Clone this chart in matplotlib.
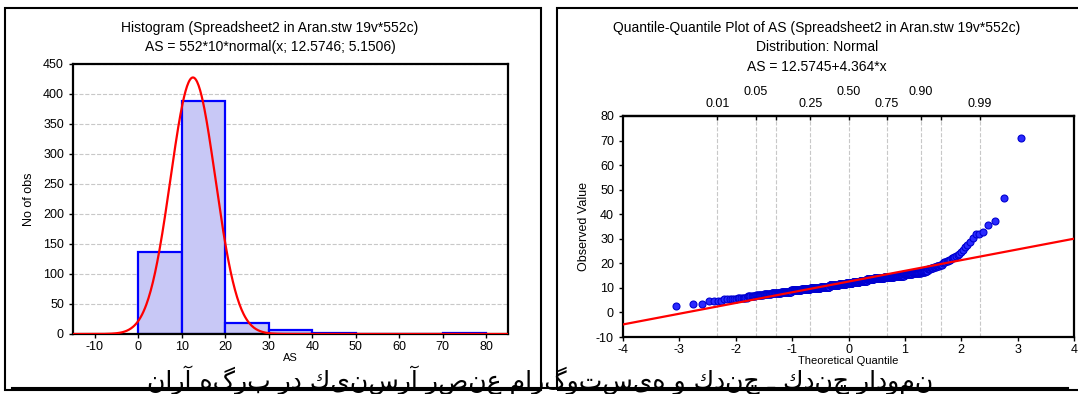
import numpy as np
import matplotlib
matplotlib.use('Agg')
import matplotlib.pyplot as plt
from matplotlib.patches import Rectangle
from matplotlib.lines import Line2D
from statistics import NormalDist

#############################################
# DATA
#############################################

# sorted AS values, as value levels and how many observations sit on each level
as_levels = [2.8, 3.4, 3.5, 4.5, 5.5,
             6.0, 6.5, 7.0, 7.5, 8.0, 8.5, 9.0, 9.5,
             10.0, 10.5, 11.0, 11.5, 12.0, 12.5, 13.0, 13.5, 14.0, 14.5, 15.0, 15.5,
             16.0, 16.5, 17.0, 17.5, 18.0, 18.5, 19.0, 19.5,
             20.0, 20.5, 21.0, 21.5, 22.0, 22.5, 23.0, 23.5, 24.0, 24.5,
             25.5, 26.5, 27.5, 28.5,
             30.3, 31.8, 32.6, 35.6, 37.3, 46.5, 71.0]
as_counts = [1, 1, 1, 4, 6,
             7, 7, 9, 11, 17, 21, 26, 26,
             33, 33, 35, 28, 26, 27, 27, 26, 34, 30, 26, 19,
             16, 7, 4, 4, 4, 3, 4, 3,
             1, 2, 2, 2, 2, 1, 1, 1, 1, 1,
             1, 1, 1, 1,
             1, 2, 1, 1, 1, 1, 1]

hist_edges = [0, 10, 20, 30, 40, 50, 60, 70, 80]

# fitted normal (from the histogram title) and the q-q fit line (from the q-q title)
fit_n = 552
fit_width = 10
fit_mean = 12.5746
fit_sd = 5.1506
qq_intercept = 12.5745
qq_slope = 4.364

quant_probs = [0.01, 0.05, 0.10, 0.25, 0.50, 0.75, 0.90, 0.95, 0.99]
quant_labels = ['0.01', '0.05\n', '', '0.25', '0.50\n', '0.75', '0.90\n', '', '0.99']

hist_title = 'Histogram (Spreadsheet2 in Aran.stw 19v*552c)'
hist_sub = 'AS = 552*10*normal(x; 12.5746; 5.1506)'
qq_title = 'Quantile-Quantile Plot of AS (Spreadsheet2 in Aran.stw 19v*552c)'
qq_sub1 = 'Distribution: Normal'
qq_sub2 = 'AS = 12.5745+4.364*x'
caption = 'نمودار چندك ـ چندك و هیستوگرام عنصر آرسنیك در برگه آران'

#############################################
# FIGURE
#############################################

plt.rcParams['font.family'] = ['Liberation Sans', 'DejaVu Sans']
plt.rcParams['font.size'] = 9
plt.rcParams['axes.unicode_minus'] = False

W, H = 1078, 394
fig = plt.figure(figsize=(W / 100, H / 100), dpi=100)


def px_axes(x0, y0, x1, y1):
    return fig.add_axes([x0 / W, 1 - y1 / H, (x1 - x0) / W, (y1 - y0) / H])


def style_axes(ax):
    for s in ax.spines.values():
        s.set_linewidth(1.6)
    ax.tick_params(axis='both', which='both', length=3, width=1, labelsize=9)
    ax.tick_params(axis='x', direction='out', top=False, pad=2)
    ax.tick_params(axis='y', direction='out', right=False)


values = np.repeat(as_levels, as_counts)
n = len(values)

# ---- histogram panel
ax1 = px_axes(73, 64, 508, 334)
ax1.hist(values, bins=hist_edges, color='#c8c8f6', edgecolor='#0000ff', linewidth=1.6, zorder=2)
xs = np.linspace(-15, 85, 600)
ys = [fit_n * fit_width * NormalDist(fit_mean, fit_sd).pdf(v) for v in xs]
ax1.plot(xs, ys, color='red', lw=1.6, zorder=3)
ax1.set_xlim(-15, 85)
ax1.set_ylim(0, 450)
ax1.set_xticks(np.arange(-10, 81, 10))
ax1.set_yticks(np.arange(0, 451, 50))
ax1.yaxis.grid(True, ls='--', color='#c8c8c8', lw=0.8, zorder=0)
ax1.set_axisbelow(True)
style_axes(ax1)
ax1.set_ylabel('No of obs', fontsize=9, labelpad=6)
ax1.set_xlabel('AS', fontsize=8, labelpad=0)

fig.text(270 / W, 1 - 28 / H, hist_title, ha='center', va='center', fontsize=10)
fig.text(270 / W, 1 - 47 / H, hist_sub, ha='center', va='center', fontsize=10)

# ---- q-q panel
ax2 = px_axes(623, 116, 1074, 337)
ranks = np.arange(1, n + 1)
theo = [NormalDist().inv_cdf((j - 0.375) / (n + 0.25)) for j in ranks]
for q in quant_probs:
    ax2.axvline(NormalDist().inv_cdf(q), color='#c8c8c8', ls='--', lw=0.8, zorder=0)
ax2.plot(theo, values, 'o', ms=5, mfc='#2a2aff', mec='#0000d0', mew=0.8, zorder=3)
lx = np.array([-4, 4])
ax2.plot(lx, qq_intercept + qq_slope * lx, color='red', lw=1.6, zorder=4)
ax2.set_xlim(-4, 4)
ax2.set_ylim(-10, 80)
ax2.set_xticks(np.arange(-4, 5, 1))
ax2.set_yticks(np.arange(-10, 81, 10))
style_axes(ax2)
ax2.set_ylabel('Observed Value', fontsize=9, labelpad=4)
ax2.set_xlabel('Theoretical Quantile', fontsize=8, labelpad=0)

top = ax2.secondary_xaxis('top')
top.set_xticks([NormalDist().inv_cdf(q) for q in quant_probs])
top.set_xticklabels(quant_labels, fontsize=9, linespacing=1.1)
top.tick_params(direction='in', length=3, width=1, pad=4)
top.spines['top'].set_linewidth(1.6)

fig.text(817 / W, 1 - 28 / H, qq_title, ha='center', va='center', fontsize=10)
fig.text(817 / W, 1 - 47 / H, qq_sub1, ha='center', va='center', fontsize=10)
fig.text(817 / W, 1 - 67 / H, qq_sub2, ha='center', va='center', fontsize=10)

# ---- panel frames
for x0, x1 in [(5, 541), (557, 1082)]:
    fig.add_artist(Rectangle((x0 / W, 1 - 390 / H), (x1 - x0) / W, (390 - 8) / H,
                             transform=fig.transFigure, fill=False, ec='black', lw=1.5))

# ---- persian caption (drawn right-to-left)
fig.text(540 / W, 1 - 380 / H, caption[::-1], ha='center', va='center', fontsize=18,
         family='DejaVu Sans')
fig.add_artist(Line2D([12 / W, 1068 / W], [1 - 388 / H, 1 - 388 / H], transform=fig.transFigure,
                      color='black', lw=1.5))

fig.savefig('out.png', dpi=100)
